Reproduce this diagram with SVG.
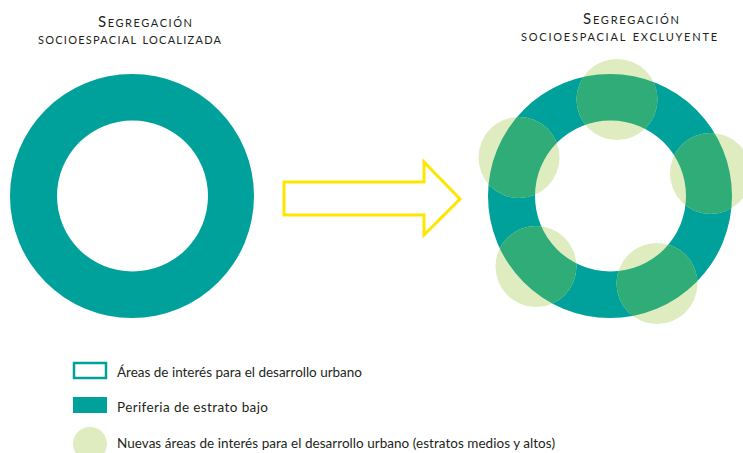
<svg xmlns="http://www.w3.org/2000/svg" width="743" height="453" viewBox="0 0 743 453">
<style>
.title{font-family:Lato,"Open Sans","Liberation Sans",sans-serif;font-variant:small-caps;fill:#231f20;font-size:15px;letter-spacing:1px}
.leg{font-family:Lato,"Open Sans","Liberation Sans",sans-serif;fill:#231f20;font-size:13.5px}
.teal{fill:#00a19a}
.light{fill:#dfecc0}
.over{fill:#30ac78}
</style>
<defs>
<clipPath id="ringClip">
<path clip-rule="evenodd" d="M488,196a122,122 0 1,0 244,0a122,122 0 1,0 -244,0ZM535,196a75.5,75.5 0 1,0 151,0a75.5,75.5 0 1,0 -151,0Z"/>
</clipPath>
</defs>
<rect width="743" height="453" fill="#ffffff"/>
<g id="title-left">
<text class="title" x="98" y="27" textLength="95">Segregación</text>
<text class="title" x="38" y="44" textLength="184">socioespacial localizada</text>
</g>
<g id="title-right">
<text class="title" x="583" y="23.5" textLength="97">Segregación</text>
<text class="title" x="521" y="41" textLength="197">socioespacial excluyente</text>
</g>
<g id="ring-left">
<path class="teal" fill-rule="evenodd" d="M10,196a122,122 0 1,0 244,0a122,122 0 1,0 -244,0ZM57,196a75.5,75.5 0 1,0 151,0a75.5,75.5 0 1,0 -151,0Z"/>
</g>
<g id="connectors">
<path d="M284,182H424V162L460,199L424,235V215H284Z" fill="none" stroke="#ffe500" stroke-width="3" stroke-linejoin="miter"/>
</g>
<g id="ring-right">
<path class="teal" fill-rule="evenodd" d="M488,196a122,122 0 1,0 244,0a122,122 0 1,0 -244,0ZM535,196a75.5,75.5 0 1,0 151,0a75.5,75.5 0 1,0 -151,0Z"/>
</g>
<g id="new-areas">
<circle class="light" cx="617" cy="99.5" r="40.5"/>
<circle class="light" cx="519" cy="157.5" r="40.5"/>
<circle class="light" cx="710.5" cy="173.5" r="40.5"/>
<circle class="light" cx="536" cy="266.5" r="40.5"/>
<circle class="light" cx="657" cy="283.5" r="40.5"/>
<g clip-path="url(#ringClip)">
<circle class="over" cx="617" cy="99.5" r="40.5"/>
<circle class="over" cx="519" cy="157.5" r="40.5"/>
<circle class="over" cx="710.5" cy="173.5" r="40.5"/>
<circle class="over" cx="536" cy="266.5" r="40.5"/>
<circle class="over" cx="657" cy="283.5" r="40.5"/>
</g>
</g>
<g id="legend-1">
<rect x="74" y="363" width="32" height="15" fill="#ffffff" stroke="#00a19a" stroke-width="2.5"/>
<text class="leg" x="117" y="377" textLength="245">Áreas de interés para el desarrollo urbano</text>
</g>
<g id="legend-2">
<rect class="teal" x="73" y="397" width="34" height="16"/>
<text class="leg" x="117" y="412" textLength="151">Periferia de estrato bajo</text>
</g>
<g id="legend-3">
<circle class="light" cx="90" cy="444" r="17"/>
<text class="leg" x="117" y="448" textLength="438">Nuevas áreas de interés para el desarrollo urbano (estratos medios y altos)</text>
</g>
</svg>
